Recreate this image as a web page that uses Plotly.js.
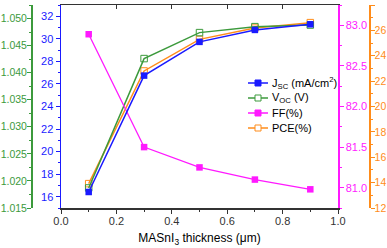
<!DOCTYPE html>
<html><head><meta charset="utf-8">
<script src="https://cdn.plot.ly/plotly-3.0.1.min.js"></script>
<style>html,body{margin:0;padding:0;background:#fff}#chart{width:387px;height:248px}</style>
</head><body><div id="chart"></div>
<script>
const thickness = [0.1, 0.3, 0.5, 0.7, 0.9];
const jsc = [16.42, 26.74, 29.73, 30.79, 31.29];
const voc = [1.0187, 1.0426, 1.0474, 1.0485, 1.0488];
const ff = [82.89, 81.50, 81.25, 81.10, 80.98];
const pce = [13.92, 22.80, 25.29, 26.18, 26.61];
const names = ['J<sub>SC</sub> (mA/cm<sup>2</sup>)', 'V<sub>OC</sub> (V)', 'FF(%)', 'PCE(%)'];

const cBlue = '#1a1aff', cGreen = '#3c9a3c', cMag = '#ff19ff', cOr = '#ff8c1a';
const FONT = 'Liberation Sans, Arial, sans-serif';

const traces = [
  {x: thickness, y: pce, name: names[3], yaxis: 'y', mode: 'lines+markers',
   line: {color: cOr, width: 1.5}, marker: {symbol: 'square-open', size: 6.5, color: cOr, line: {width: 1}}},
  {x: thickness, y: voc, name: names[1], yaxis: 'y2', mode: 'lines+markers',
   line: {color: cGreen, width: 1.5}, marker: {symbol: 'square-open', size: 6.5, color: cGreen, line: {width: 1}}},
  {x: thickness, y: ff, name: names[2], yaxis: 'y3', mode: 'lines+markers',
   line: {color: cMag, width: 1.3}, marker: {symbol: 'square', size: 6.5, color: cMag}},
  {x: thickness, y: jsc, name: names[0], yaxis: 'y4', mode: 'lines+markers',
   line: {color: cBlue, width: 1.5}, marker: {symbol: 'square', size: 6.5, color: cBlue}},
];

function yax(color, range, tick0, dtick, minor, fmt, extra) {
  return Object.assign({
    range: range, tickmode: 'linear', tick0: tick0, dtick: dtick, tickformat: fmt,
    showgrid: false, zeroline: false, showline: true, linecolor: color, linewidth: 1.5,
    ticks: 'outside', ticklen: 4, tickwidth: 1, tickcolor: color,
    minor: {dtick: minor, ticks: 'outside', ticklen: 2, tickcolor: color, showgrid: false},
    tickfont: {family: FONT, size: 11, color: color}
  }, extra);
}

// legend (manual, compact like the reference)
const FIG_W = 387, PLOT_TOP = 5, PLOT_BOT = 208, PLOT_H = PLOT_BOT - PLOT_TOP;
const px = v => v / FIG_W, py = v => (PLOT_BOT - v) / PLOT_H;
const legendRows = [
  {label: names[0], color: cBlue, open: false, y: 83},
  {label: names[1], color: cGreen, open: true, y: 98},
  {label: names[2], color: cMag, open: false, y: 113},
  {label: names[3], color: cOr, open: true, y: 128},
];
const shapes = [], annotations = [];
legendRows.forEach(r => {
  shapes.push({type: 'line', xref: 'paper', yref: 'paper', x0: px(248), x1: px(268), y0: py(r.y), y1: py(r.y),
    line: {color: r.color, width: 1.5}});
  shapes.push({type: 'rect', xref: 'paper', yref: 'paper', x0: px(255), x1: px(261), y0: py(r.y + 3), y1: py(r.y - 3),
    fillcolor: r.open ? '#fff' : r.color, line: {color: r.color, width: 1}});
  annotations.push({xref: 'paper', yref: 'paper', x: px(270), y: py(r.y), xanchor: 'left', yanchor: 'middle',
    showarrow: false, text: r.label, font: {family: FONT, size: 11, color: '#000'}});
});

const layout = {
  width: 387, height: 248,
  margin: {l: 0, r: 0, t: PLOT_TOP, b: 248 - PLOT_BOT},
  paper_bgcolor: '#fff', plot_bgcolor: '#fff',
  font: {family: FONT, size: 11, color: '#000'},
  showlegend: false,
  shapes: shapes, annotations: annotations,
  xaxis: {domain: [px(61), px(338)], range: [0, 1], tickmode: 'linear', tick0: 0, dtick: 0.2, tickformat: '.1f',
    showgrid: false, zeroline: false, showline: true, linecolor: '#333', linewidth: 1.5,
    ticks: 'outside', ticklen: 4, tickcolor: '#333', ticklabelstandoff: -2,
    minor: {dtick: 0.1, ticks: 'outside', ticklen: 2, tickcolor: '#333', showgrid: false},
    tickfont: {family: FONT, size: 11, color: '#333'},
    title: {text: 'MASnI<sub>3</sub> thickness (μm)', font: {family: FONT, size: 12, color: '#000'}, standoff: 8}},
  xaxis2: {overlaying: 'x', side: 'top', anchor: 'y', range: [0, 1], tickmode: 'linear', tick0: 0, dtick: 0.2,
    showticklabels: false, showgrid: false, zeroline: false, showline: true, linecolor: '#333', linewidth: 1.5,
    ticks: 'inside', ticklen: 4, tickcolor: '#333'},
  yaxis: yax(cOr, [12, 28], 12, 2, 1, 'd', {anchor: 'free', position: px(369), side: 'right', ticklabelstandoff: -2,
    tickfont: {family: FONT, size: 10.5, color: cOr}}),
  yaxis2: yax(cGreen, [1.015, 1.0525], 1.015, 0.005, 0.0025, '.3f', {overlaying: 'y', anchor: 'free', position: px(31), side: 'left',
    ticklabelstandoff: -2, tickfont: {family: FONT, size: 10.5, color: cGreen}}),
  yaxis3: yax(cMag, [80.75, 83.25], 81, 0.5, 0.25, '.1f', {overlaying: 'y', anchor: 'x', side: 'right'}),
  yaxis4: yax(cBlue, [15, 33], 16, 2, 1, 'd', {overlaying: 'y', anchor: 'x', side: 'left'}),
};
// invisible trace to keep the top x-axis frame
traces.push({x: [0], y: [20], xaxis: 'x2', yaxis: 'y', mode: 'markers', marker: {opacity: 0}, showlegend: false, hoverinfo: 'skip'});
Plotly.newPlot('chart', traces, layout, {staticPlot: true, displayModeBar: false});
</script></body></html>
